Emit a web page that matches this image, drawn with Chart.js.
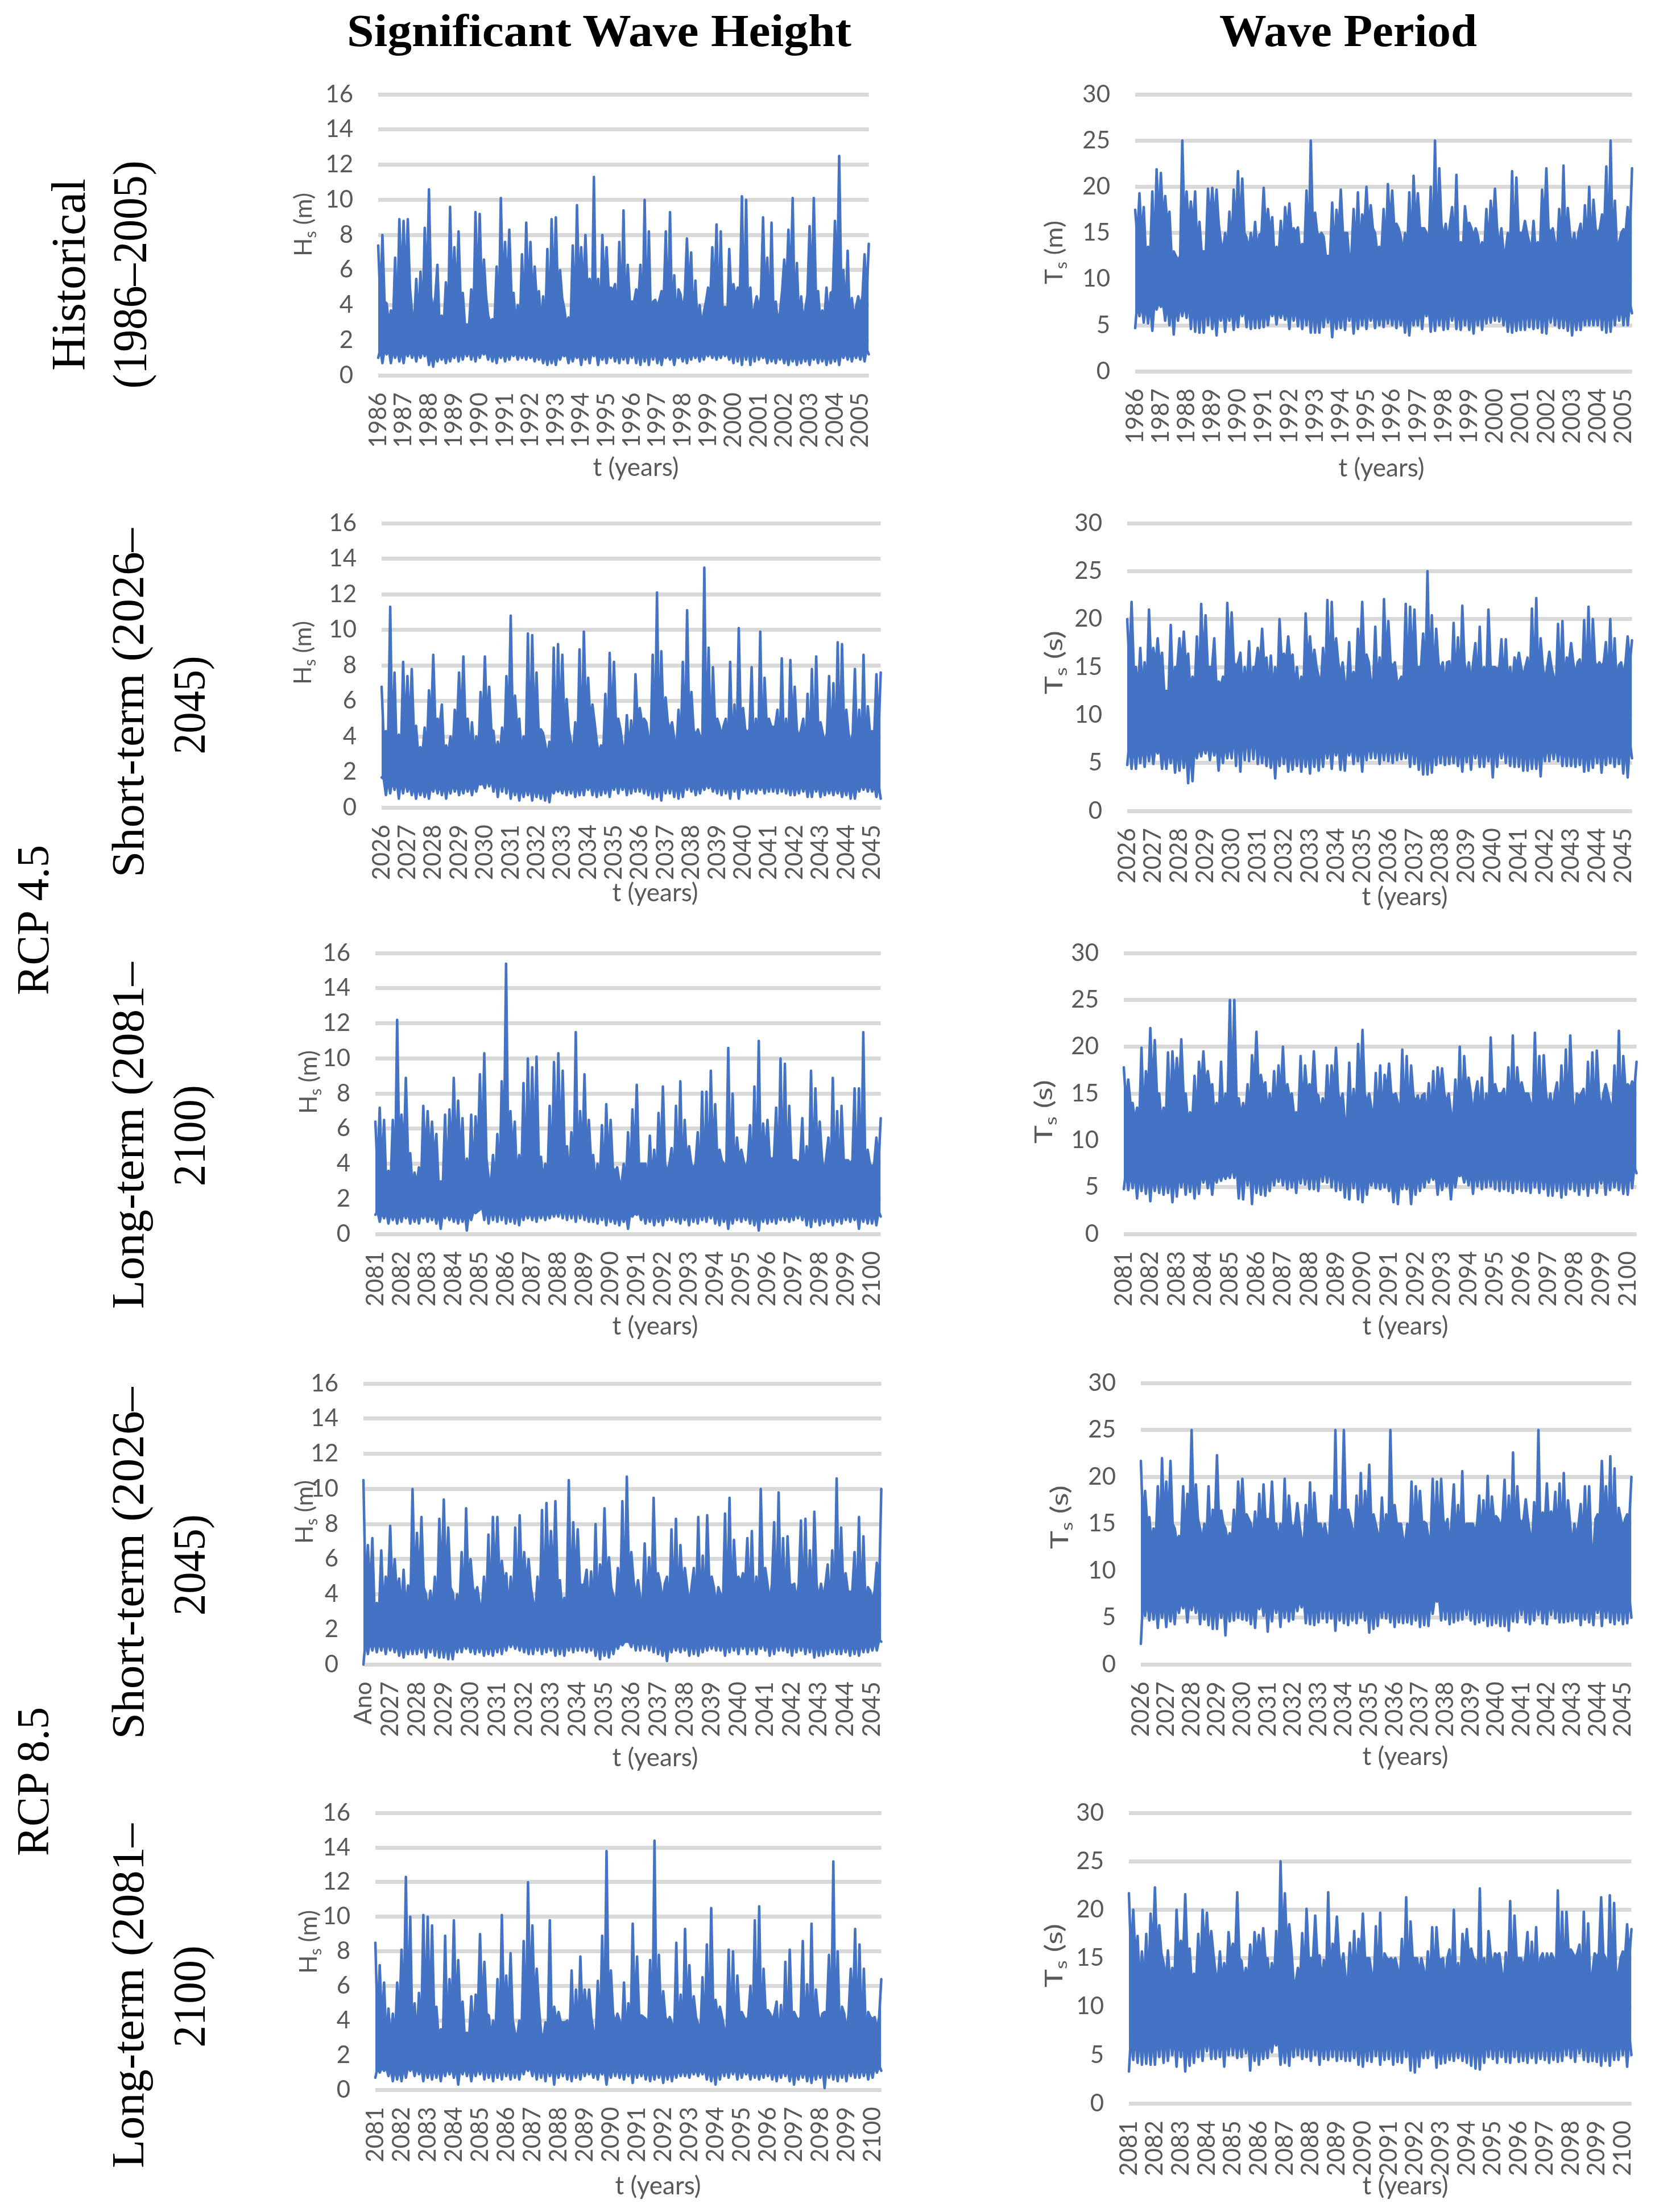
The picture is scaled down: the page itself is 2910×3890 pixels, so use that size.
<!DOCTYPE html>
<html><head><meta charset="utf-8">
<style>
html,body{margin:0;padding:0;background:#fff}
#page{position:relative;width:2910px;height:3890px;overflow:hidden;background:#fff}
canvas{position:absolute}
svg{position:absolute;left:0;top:0}
.head{font-family:"Liberation Serif",serif;fill:#000}
.ax{font-family:Lato,sans-serif;fill:#595959}
</style>
<script src="https://cdn.jsdelivr.net/npm/chart.js@4/dist/chart.umd.min.js"></script>
</head><body><div id="page"><canvas id="c0"></canvas><canvas id="c1"></canvas><canvas id="c2"></canvas><canvas id="c3"></canvas><canvas id="c4"></canvas><canvas id="c5"></canvas><canvas id="c6"></canvas><canvas id="c7"></canvas><canvas id="c8"></canvas><canvas id="c9"></canvas><svg id="ov" width="2910" height="3890" xmlns="http://www.w3.org/2000/svg"></svg></div>
<script>
const yearsHist=['1986','1987','1988','1989','1990','1991','1992','1993','1994','1995','1996','1997','1998','1999','2000','2001','2002','2003','2004','2005'];
const yearsShort=['2026','2027','2028','2029','2030','2031','2032','2033','2034','2035','2036','2037','2038','2039','2040','2041','2042','2043','2044','2045'];
const yearsShortAno=['Ano','2027','2028','2029','2030','2031','2032','2033','2034','2035','2036','2037','2038','2039','2040','2041','2042','2043','2044','2045'];
const yearsLong=['2081','2082','2083','2084','2085','2086','2087','2088','2089','2090','2091','2092','2093','2094','2095','2096','2097','2098','2099','2100'];
const hsTicks=[0,2,4,6,8,10,12,14,16];
const tsTicks=[0,5,10,15,20,25,30];

const hsHistHigh=[7.4,8,4.1,3.7,6.7,8.9,8.8,8.9,3.6,5.5,5.9,8.4,10.6,3.6,6.3,3.4,5.3,9.6,7.3,8.2,4.7,2.9,4.9,9.3,9.2,6.6,3.4,3.2,6.2,10.1,7.6,8.3,4.7,4,6.9,8.7,7.6,6.2,4.8,4.5,7.2,8.9,9,6,3.8,3.3,7.4,9.7,7.3,8,5.5,11.3,5.5,8,7.3,5,5.2,7.6,9.4,6.3,4.2,4.9,6.3,10,8.2,4.2,3.9,4.8,8.2,9.3,5.7,4.9,3.6,7.8,7,5.4,4,3.6,5,7.3,8.6,8.2,3.9,7.2,5.2,5,10.2,10,5,3.9,3.8,9,6.7,8.7,4.2,3.6,6.6,8.3,10.1,6.4,4.5,3.8,8.5,10.1,4.8,3.7,5,4.7,8.8,12.5,6,7.1,4.4,3.9,3.9,6.9,7.5];
const hsHistLow=[1,.7,1.2,.7,1,.8,.7,1.1,1,.8,1,1.1,.6,.5,.8,.9,.7,.8,1,.8,.9,1.1,.9,.8,1,1.2,.9,.8,.7,1,.8,.9,1.1,.9,1,.9,1,.8,.9,.7,.6,.7,.6,.9,1.1,.7,.8,1,.6,.9,.7,1.1,.6,.9,.7,1,.8,.7,.9,.7,1,.7,.6,.8,.6,.9,.7,.6,1,.9,.6,1,.8,.7,.9,1,.8,.9,1.1,1,.9,1,1.1,.9,.7,.8,.6,.9,.6,.8,.9,1,.7,.8,.7,.9,.7,.6,.8,.6,.7,.8,.6,.9,.7,.8,.6,.7,.8,.6,1,.9,.8,1,.9,.8,1.2];
const hsHistBody=[4.2,2.9,5,3,4.5,2.8,4.2,2.9,4.5,3,4.6,2.9,4.2,2.8,4.4,2.9,4.6,3,4.8,3,4.2,2.8,4.3,3,4.6,2.8,4.2,2.9,4.4,3,4.5,3,4.8,3,4.6,3.2,4.8,3.2,4.5,3];
const hsHistRidge=[1.5,1.5,1.3,1.5,1.4,1.4,1.3,1.3,1.4,1.4,1.5,1.3,1.4,1.4,1.6,1.3,1.3,1.3,1.4,1.5];

const tsHistHigh=[17.5,19.3,17.8,13.5,19.5,21.9,21.5,19,17.3,13,12,25,19.5,18.4,19.5,16.2,13,19.8,19.9,19.7,14,15,17.3,19.7,21.7,20.9,14.5,15,16.2,14.8,19.9,17.6,16.7,13.5,16.3,17.8,18.2,15.5,15.6,13.8,19.6,25,17.2,14.7,14.6,12.5,18.3,17.5,19.7,15,12,17.6,19.4,17,20,18,15,13.5,17.6,20.3,19.6,16,14.6,15,19.4,21.2,19.3,15.5,15,20,25,22,14.5,14,17.8,21.3,14,17.9,16.1,14.5,14.7,14,17.6,18.5,19.8,13.3,13,15,21.7,21,15,16.3,14,16.3,14,19.7,22,15,14,17.6,22.3,17.7,13.4,13,16,18,20,18.6,14.8,17,22.2,25,18.5,14,15.4,17.8,22];
const tsHistLow=[4.7,6,5.3,5.2,4.4,6.7,7,5.5,5,4,5.5,6,5.8,4.6,4.3,4.2,4.2,5,4.6,3.9,5.5,4.3,5.5,4.5,4.8,6,4.8,4.6,4.7,4.7,4.8,5,6,5.1,5.8,5.6,4.6,5.5,4.9,4.6,5,4.2,4.2,4.2,4.8,5.3,3.7,4.6,4.7,4.5,5.5,4.1,4.6,5,4.6,5.5,4.7,5,4.8,5.2,5,4.7,5,4.2,3.9,5,5,4.6,6,4.3,4.4,5,4.5,4.6,5.5,4.6,4.5,5,4.5,4.1,5,4.5,5.2,5.3,5.5,5.4,5,4.3,4.2,4.4,4.5,4.5,4.8,4.6,4.7,4.2,4.1,5.3,5,4.7,4.7,4.4,3.9,4.5,4.5,5,5,5,5,4.5,4.2,4.3,5,5.5,5,5,6.3];
const tsHistBody=[14.5,12.5,16,12.5,15.5,13,16,13,15,13,15,12.5,15,13,15,12.5,15,12.8,15.5,13,15.5,12.8,15.5,13,16,13,15.5,13,15.5,13,15,13,15.5,13,15,13,15.5,13,15,13];
const tsHistRidge=[7.5,7.5,7.8,7,7.2,7,7.2,7,7.2,6.8,6.8,7.2,7.2,7,7,7.4,7.2,6.8,7.4,7.4];

const hs45ShortHigh=[6.8,4.3,11.3,7.6,4.1,8.2,7.4,7.8,4.6,3.4,4.5,6.6,8.6,5,5.8,3.5,4,5.5,7.6,8.5,5,4.8,4,6.5,8.5,6.8,4.3,3.7,4.5,7.4,10.8,6.3,5,4,9.8,9.7,7.6,4.4,3.6,3.7,9,9.2,8.6,6.1,3.7,4.8,8.9,9.9,7.3,5.8,3.7,3.5,6.4,8.7,8.2,5,3.5,5.2,4.9,7.5,5.6,5,4,8.6,12.1,8.8,6.2,4.4,3.9,5.5,8.2,11.1,6.5,4,4,13.5,9,7.9,5,4,5,8.2,5.8,10.1,5.6,4.2,7.9,5,9.9,7.3,5,4.5,5.5,8.4,5,8.3,6.8,3.9,5,6.4,7.8,8.5,4.8,3.6,7.4,7,9.3,9.2,5.5,3.5,7.8,5.5,8.6,5.7,4.3,7.5,7.6];
const hs45ShortLow=[1.7,.7,.8,1,.5,.8,.9,.7,.5,.7,.6,.5,.9,.8,.7,.5,.8,.9,.7,.8,.9,.7,.9,1.3,1.1,1.2,.9,.6,.9,.8,.5,.7,.4,.6,.7,.4,.6,.5,.4,.3,.8,.9,.8,.7,.8,.6,.7,.7,1,.7,.6,.7,.8,.6,1,.8,1,.7,.8,.9,.9,.8,.7,.5,.6,.4,.8,.8,.6,.5,.6,1,.9,.7,.8,1,1.1,.9,.8,.7,.8,.5,.9,.5,1,.8,.9,.8,1,.8,.9,.9,.8,.9,.8,.7,.7,.8,.9,.6,.6,.9,.6,.7,.8,.7,.8,.6,.7,.5,.5,.9,1,.9,.9,.6,.5];
const hs45ShortBody=[3.8,3,4.2,3,4.6,3,4.4,3,4.4,3,4.4,3,4.2,2.8,4.4,3,4.8,3,4.4,3,4.8,3.2,4.8,3.2,4.4,3,4.6,3,4.4,3,4.6,3,4.4,3,4.2,3,4.2,3,4.2,3];
const hs45ShortRidge=[1.6,1.3,1.4,1.4,1.7,1.3,1.2,1.4,1.4,1.5,1.5,1.5,1.4,1.5,1.4,1.5,1.4,1.3,1.4,1.3];

const ts45ShortHigh=[20,21.8,15,17,15.5,21,17,18,16.5,12.5,19.4,15,18,18.7,16.4,14,18.2,21.6,20.4,15,18,13.5,14,21.7,20.7,15,16.5,15,17.7,15,17,19,16,16.2,15,20,16.4,18.2,16.3,15,14,20.6,18.2,16.8,14,17,22,21.8,18,14,13.4,17.6,14.5,19,21.8,16.3,13.5,19.2,16,22.1,19.8,15,13.5,14,21.6,21.3,21,15,18.5,25,20.4,19,14.5,13,15.6,19.6,18.1,21.4,14,13.2,17.5,19.2,15,21,15,14.8,17.9,17.9,15,16,16.5,14,16,21.1,22.2,18,13.5,16.6,14,19.5,19.8,16,17.5,14,15.8,19.9,21.3,20,15,15,17.6,20,18,15.2,14,18.2,17.8];
const ts45ShortLow=[4.8,4.4,4.4,5,4.6,5.2,4.9,6,4.4,4.4,5,4,4.2,4.5,2.9,3.1,5.5,5.7,6,5.3,5.8,4.2,5,5.5,5.5,4.7,4.1,5.3,5.2,5.4,4.9,5,4.7,4.5,3.4,4.7,4.9,4.1,4.3,4.7,4.1,4.6,3.9,4.6,4.2,4.6,5.5,4.4,5.8,4.3,4.2,5.8,4.9,5.2,4.1,5.3,5.5,5.5,4.9,5.3,5.2,5,5.3,5.4,5.5,4.6,4.9,4.3,3.8,3.8,4,4.8,5,4.8,4.9,5,4.7,4.1,5.1,4.3,5.5,4.6,4.6,5.2,3.5,4.6,5.5,5,4.7,4.6,4.6,4.2,4.2,4.4,4.4,3.6,5.2,5.2,5.4,5.2,4.7,4.7,4.7,4.6,4.8,4.1,4.2,4.5,5,4,4.8,5,4.6,4.9,3.9,3.5,5.5];
const ts45ShortBody=[15,12.5,15,12.5,15,12.5,15,13,15.5,12.5,15,12.5,15.5,12.5,15,13,15.5,13,15.5,13,15.5,13.5,15,13.5,15.5,13,15.5,13,15,13,15,13,15,12.8,15.5,13,15.5,13,15.5,13];
const ts45ShortRidge=[7.2,6.8,7,7.2,8.5,7.2,7,7.2,7.2,7.4,7.4,7.2,7.2,7.2,7.4,7.2,7.2,7,7,7.2];

const hs45LongHigh=[6.4,7.2,6.5,3.6,6.5,12.2,6.8,8.9,4.6,3.5,3.8,7.3,7,6.4,5.7,3,6.8,7.1,8.9,7.6,6.6,4.3,6.8,6.7,9.1,10.3,3.2,4.5,5.7,8.7,15.4,7,6.4,4.5,8.6,10,9.5,10.1,4.4,4,7.3,9.8,10.3,9.3,5,5.8,11.5,7,9.1,6.5,4.5,4,6.2,7.4,6.5,3.5,3,4,5.8,7.1,8.5,4,4,5.6,4.8,6.9,8.4,3.5,4.9,7.3,8.7,6.5,5,3.7,5.8,8.1,8.1,9.3,7.4,4.8,4,10.6,8,5.5,4.8,3.6,6.2,8.4,11,6.3,6.5,4.2,7.2,10,9.7,7.3,4.2,4,6.6,5,9.3,8.3,6.4,3.3,5.5,8.9,7,7.3,4.2,4,8.3,8.3,11.5,4.8,3.8,5.5,6.6];
const hs45LongLow=[1.1,.7,.9,.6,.8,.6,.7,.9,.6,.7,.6,.9,.7,.8,.6,.3,.9,.8,.7,.6,.7,.2,.8,1.2,1.4,.8,.6,.8,.7,.8,.6,.7,.6,.5,.8,.9,.8,.7,.9,.8,.9,1,1,.9,.8,.9,.7,.9,.8,.7,.7,.6,.8,.5,.7,.6,.5,.7,.3,1,1.1,.8,.6,.7,.5,.7,.5,.8,.8,.7,.6,.8,.5,.7,.6,.8,.7,.9,.6,.5,.7,.3,.6,.8,.7,.8,.6,.5,.2,.7,.6,.7,.6,.8,.8,.7,.8,.9,.8,.5,.4,.7,.5,.6,.7,.5,.7,.6,.8,.7,.8,.3,.7,.6,.6,.5,1];
const hs45LongBody=[3.6,2.8,4.4,2.8,4.2,2.9,4.2,3,4.3,2.8,4.6,3,4.3,3,4.4,3,4.2,2.8,3.8,2.8,4,2.8,4,2.9,4,2.8,4.2,3,4.2,3,4.4,3,4.2,3,4.4,2.9,4.2,2.8,4,2.9];
const hs45LongRidge=[1.3,1.3,1.3,1.3,1.6,1.4,1.4,1.6,1.4,1.2,1.3,1.3,1.4,1.3,1.3,1.3,1.4,1.3,1.3,1.3];

const ts45LongHigh=[17.8,16.5,14,13.5,19.9,17.4,22,20.7,15,13.5,19.4,19.5,18.8,20.8,15,13,16.9,18.4,19.5,17.4,16,14,18.4,15,25,25,14.5,14,16,19.1,21.6,17,16.2,15,17.4,18,20,16,15,13,19,18,16,19.5,14.8,14.5,18,18,19.9,14,12,18.3,15.5,20.3,21.8,14,13.5,17.2,18,17,18.2,14.8,14,19.7,19,18,14,13.6,15,16.1,17.4,17.8,17.7,14,13,16.5,20,19,16.7,12.5,16.3,16.7,15,21,16,15,15.5,17.8,21.2,17.8,16.2,15,14,21.5,19,19.1,13.4,13,16.2,18,19.7,21.2,12,14.7,15.5,18.4,19.4,19.6,13,16,14,18,21.7,19,16,16.3,18.4];
const ts45LongLow=[4.8,4.7,4.9,3.8,4.6,4.3,3.5,4.6,4.4,4.2,4.4,3.4,4,5,4.2,4.5,3.8,4.3,5.5,4.9,4.2,5.5,5.7,5.9,6,6,3.8,3.7,5.2,3.2,4.4,4.2,4.1,4.6,5.2,5.6,5.2,4.8,5,4.4,5.4,5.3,4.8,4.8,4.6,5.6,5.5,5,4.6,4.7,3.9,3.7,4.9,3.7,3.4,4.2,5.2,4.9,4.8,5,4.6,3.4,3.2,4.8,4.8,3.2,4.2,4.6,5,5.5,5.8,4.2,4.7,5.1,3.7,5,6.2,5.5,5.2,4.3,5.1,4.8,5,5.1,4.8,4.6,4.8,4.6,4.4,4.8,4.6,4.6,4.4,5,4.4,4.8,4.1,4.1,4.6,3.9,4.2,4.8,4.6,4.2,4.8,4.1,4.9,4.4,5.4,4.2,4.7,5,4.7,4.3,4.2,4.9,6.5];
const ts45LongBody=[14,12,15,12,15,12,15.5,12.5,14.5,12.5,15.5,12.8,14.5,12.8,15,12.8,15,12.2,15,12,15,12.2,14.8,12.2,15,12,15,12.2,15,12.5,15,12.5,15,12.5,15,12,15,12.4,15.5,12.4];
const ts45LongRidge=[6.8,6.6,6.8,6.6,7.4,6.8,7,7.4,7.2,6.4,6.4,6.6,6.6,7,7.4,7,7,6.8,6.8,7.2];

const hs85ShortHigh=[10.5,6.8,7.2,3.5,6.5,5,7.9,6,4.9,5.4,4.5,10,7.5,8.4,4,4.2,5,8.3,9.4,7.8,4.1,4,6.4,8.9,6,4,3.5,5,7.4,8.4,8.4,5.9,5.2,5,7.8,8.5,6.4,6,3.6,5,8.8,9.2,7.6,9.3,4.8,3.8,10.5,8.1,7.7,4.5,5.4,5.3,8,5.7,8.9,6.1,3.9,5.5,9.3,10.7,6.4,3.8,3.8,6.9,6.1,9.5,5.2,3.5,5,7.7,8.3,6.8,5.5,3.4,5.5,8.4,6.2,8.5,5,3.3,4,8.6,9.5,7.1,5,5.2,7.2,7.6,5,10,5.5,3.5,8.1,9.8,7.2,7.3,4.5,3.6,8.2,8.3,6.5,8.7,3.7,3.7,5.7,6.5,10.6,7.8,5.2,4.1,6.4,8.4,7.3,4.4,3.6,5.8,10];
const hs85ShortLow=[0,.6,.8,.7,.8,.6,.8,.7,.5,.4,.6,.6,.6,.7,.4,.7,.5,.4,.4,.3,.3,.7,.7,.9,.7,.6,.7,.5,.6,.5,.7,.6,.8,1,.9,.8,.7,.6,.6,.8,.6,.7,.8,.5,.6,.5,.8,.7,.8,.8,.7,.8,.5,.3,.5,.4,.6,.9,1.1,1.3,1,.8,.8,.9,.8,.7,.6,.5,.2,.7,.8,.7,.8,.5,.6,.5,.7,.8,.9,.8,.8,.5,.7,.8,.6,.9,.6,.8,.6,.9,.8,.5,.6,.8,.8,.7,.5,.7,.8,.6,.7,.4,.5,.5,.6,.7,.6,.6,.7,.5,.6,.5,.7,.7,.8,.8,1.3];
const hs85ShortBody=[4,3,4,3,4.4,3,4.4,3,4.4,3,4.6,3,4.4,3,4.6,3.2,4.6,3,4.4,3.2,4.8,3.2,4.6,3,4.4,3,4.4,3,4.6,3,4.6,3,4.6,3,4.6,3,4.2,3,4.2,3.2];
const hs85ShortRidge=[1.4,1.3,1.4,1.3,1.3,1.4,1.4,1.4,1.4,1.3,1.6,1.3,1.4,1.4,1.4,1.4,1.4,1.3,1.3,1.4];

const ts85ShortHigh=[21.7,18.5,15.7,14.5,19,22,19.5,21.7,14.5,13.7,19,18.2,25,19.2,14.5,15,19,16.5,22.3,16.4,14.5,14,16.5,19.5,19.8,16,15,16.3,18.2,19.2,15.5,19.5,15,15,19.8,18,14.5,17.2,13.4,17,19.4,18.3,15,13.7,13.7,18,25,16.5,25,16.5,14.5,18,20.4,18.5,21.3,16,14,17.8,16,25,17,15,13.4,15,19.5,19,18.5,15.2,13.5,19.8,19.5,19.8,14.5,12.2,19.2,17,20.6,15,15,14,18,17.5,20.1,17.9,15.8,14.5,19.7,18,22.6,19,15,17.6,14,17.3,25,16.2,19.3,16.3,18.4,19.3,20.4,17.5,12.4,13.5,17.1,19,19,12,16,21.7,19,22.2,20.9,16.7,14.5,16,20];
const ts85ShortLow=[2.2,5.2,4.7,4.8,3.9,5,4,4.6,4.3,5.5,6,4.5,5.8,5.5,4.3,4.8,4.2,3.8,3.8,5,3.1,4.6,4.7,5,4.8,4.7,4.3,3.9,5.9,5.2,3.5,4.6,5.5,4,5,4.6,4.8,5.7,6.1,4.4,4.3,4.2,4.5,4.9,4.5,4.9,3.6,4.7,4.4,4.2,4.7,4.4,5,4.7,3.4,3.8,4.1,5,4.9,4.5,4,4.5,4.4,4.5,4.3,4.7,4,4.2,4.1,5.4,6.7,4.7,4.8,4.3,4.5,4.7,4.8,5.3,4.7,4.3,4.5,4.7,4.1,4.2,4.4,4.1,4.1,3.6,4.6,4.5,5.3,4.5,4.3,4.7,5.3,4.4,4.3,5.3,4.9,4.5,4.5,4.6,4.7,4.9,4.2,4.8,4.5,4.2,5.5,4.1,5,4.5,4.3,4.7,4.3,4.4,5];
const ts85ShortBody=[15,13,15,13,15.5,13,15,13,15.5,13,15,13,15,12.8,15,13,15.5,13,15,13,15,13,15,13,15.5,13,15,13,15.5,13,15.5,13,15,13,15,12.8,15.5,12.5,15.5,13];
const ts85ShortRidge=[7,7,7.2,7.2,7,7.2,7.2,7.4,7.2,7,7,7.2,7.4,7.2,7.4,7.2,7.2,7,7.2,7.2];

const hs85LongHigh=[8.5,7.2,6.2,4.7,4.4,6.2,8.1,12.3,10,5,5.6,10.1,10,9.5,4.8,3.5,8.9,6.4,9.8,7.5,5.1,3.3,5.4,5.5,9,7.4,4.3,4,6.4,10.1,6.6,7.9,3.3,4,8.6,12,9.5,7,3.3,3.9,9.8,4.8,4.5,3.9,4,6.9,5.8,7.7,5.8,5.8,3.4,6.3,8.9,13.8,6.9,3.8,4,6.2,5,9.6,7.7,4.3,4.1,7.5,14.4,7.8,5.7,3.9,3.8,8.5,5.5,9.3,7.2,5.4,3.8,6.5,8.4,10.5,5.2,4.8,3.5,8.1,8,6.6,4.5,4,6,9.8,10.6,7,4.6,4,5.1,4.9,7.4,8.1,4.5,4,8.6,6.1,9.6,5.8,3.8,4.5,7.8,13.2,8,4.8,3.3,7,9.3,8.4,7,4.5,4.1,3.4,6.4];
const hs85LongLow=[.7,1,1.1,.8,.5,.6,.5,.7,1.1,.8,.9,.5,.7,.6,.7,.5,.8,.9,.7,.3,.9,.8,.5,.8,.9,.6,.7,.5,.7,.6,.8,.6,.7,.6,.9,1.1,.8,.6,.7,.5,.8,.3,.7,.8,.6,.5,.7,.6,.8,.9,.7,.6,.9,.3,.7,.8,.7,.6,.8,.4,.7,.8,.6,.5,.6,.7,.4,.6,.5,.7,.8,.8,.7,.9,.8,.9,.6,.5,.3,.6,.8,.7,.9,.6,.7,.9,.6,.7,.6,.7,.8,.6,.5,.7,.8,.5,.3,.6,.7,.5,.4,.6,.7,.1,.7,.6,.5,.7,.5,.8,.7,.7,.8,.6,.7,1,1.1];
const hs85LongBody=[3.8,2.8,4,2.9,4,3,4.2,3,4.4,3,4,3,4.8,2.9,3.9,2.9,4.2,2.9,4.4,3,4.2,2.9,4.2,3,4.2,3,4.2,3,4.2,3,4.4,2.8,4.2,2.9,4.4,3,4.4,2.9,4.2,2.9];
const hs85LongRidge=[1.3,1.4,1.4,1.4,1.5,1.4,1.5,1.4,1.3,1.4,1.3,1.3,1.3,1.4,1.3,1.3,1.3,1.4,1.4,1.4];

const ts85LongHigh=[21.7,20,17.3,15.7,17.5,19.6,22.3,18.4,14.5,15.8,14,20,16.8,21.6,16,13.4,17.5,20,19.7,17.8,13.5,15.7,14.5,17.7,16.5,21.8,14.7,14,16.4,17.7,17.4,18.1,15,14.5,17.8,25,21.7,18.5,12.6,14,17.6,20.1,15,19.4,15.3,14.8,21.8,16.5,19.3,13.7,13,16.6,17.8,17,19.6,15,13.5,18.3,19.7,15.5,14.8,14.6,14,17,21.3,18.8,15,13.3,14,15.7,18.2,18.2,14.8,12.3,15.9,20,14.5,17.5,18,16,14.8,22.2,15,17.8,14,15.2,13.8,15.6,20.9,19.4,15,14,17.7,16.7,18.2,15,14,14.5,15,22,19.8,19.8,15.9,15,16.4,19.8,18.6,13.5,15.1,21.3,15,21.5,20.7,13.5,15.7,18.5,18];
const ts85LongLow=[3.3,4.5,4.2,4,4.1,4,4,4.8,4.2,4.4,5,3.8,4.8,3.3,3.9,4.2,4.8,4.4,5.4,4.6,4.6,4.8,3.8,5,5,4.7,4.8,5.2,3.4,4.4,4,4.6,4.7,5.3,6,4,4.2,3.9,4.8,5,4.6,4.8,4.4,5,4,4.6,4.5,4.8,4.4,4.6,4.4,4.4,4.7,4,3.8,4.4,4.3,4.9,4,4.5,4.6,4,4.3,4.2,4.8,3.4,3.2,3.8,4.7,4.7,5,3.7,4.1,4.2,4.5,4.4,4.7,4.4,4.2,3.9,3.6,3.5,4.2,4.8,4.6,4.2,4.8,4.3,4.2,4.8,4.3,4.4,4.2,4.7,4.2,4.6,4.5,4.2,4.5,4.3,4.4,5,4.7,4.3,5.2,4.5,4.3,4.4,4.3,3.9,4.4,3.9,4.5,4.5,5,3.8,5];
const ts85LongBody=[15,12,15.5,12.5,15,12.5,15.5,12.5,15,12.5,15,12.5,16,12.5,15,12.5,15.5,12.5,15,12.2,15,12.2,15,12.2,15,12.2,15,12,15.5,12,15,12.5,15.5,12.2,15.5,12.2,15.5,12.2,15,12.5];
const ts85LongRidge=[7.2,7.2,7.2,7.2,7,6.8,7.2,7,7,7,7.2,6.8,6.6,7,7,6.8,7,7,7,7];

const panels=[
 {high:hsHistHigh,low:hsHistLow,body:hsHistBody,ridge:hsHistRidge,years:yearsHist,ticks:hsTicks,L:665,R:1538,T:166,B:660,sym:'H',unit:'(m)',yx:533,yy:395,xx:1118,xy:825},
 {high:tsHistHigh,low:tsHistLow,body:tsHistBody,ridge:tsHistRidge,years:yearsHist,ticks:tsTicks,L:1996,R:2879,T:166,B:653,sym:'T',unit:'(m)',yx:1853,yy:444,xx:2429,xy:826},
 {high:hs45ShortHigh,low:hs45ShortLow,body:hs45ShortBody,ridge:hs45ShortRidge,years:yearsShort,ticks:hsTicks,L:671,R:1558,T:920,B:1420,sym:'H',unit:'(m)',yx:532,yy:1148,xx:1152,xy:1573},
 {high:ts45ShortHigh,low:ts45ShortLow,body:ts45ShortBody,ridge:ts45ShortRidge,years:yearsShort,ticks:tsTicks,L:1982,R:2879,T:920,B:1426,sym:'T',unit:'(s)',yx:1853,yy:1165,xx:2470,xy:1580},
 {high:hs45LongHigh,low:hs45LongLow,body:hs45LongBody,ridge:hs45LongRidge,years:yearsLong,ticks:hsTicks,L:660,R:1558,T:1676,B:2170,sym:'H',unit:'(m)',yx:542,yy:1903,xx:1152,xy:2335},
 {high:ts45LongHigh,low:ts45LongLow,body:ts45LongBody,ridge:ts45LongRidge,years:yearsLong,ticks:tsTicks,L:1976,R:2886,T:1676,B:2170,sym:'T',unit:'(s)',yx:1835,yy:1955,xx:2471,xy:2335},
 {high:hs85ShortHigh,low:hs85ShortLow,body:hs85ShortBody,ridge:hs85ShortRidge,years:yearsShortAno,ticks:hsTicks,L:639,R:1558,T:2433,B:2927,sym:'H',unit:'(m)',yx:535,yy:2659,xx:1152,xy:3094},
 {high:ts85ShortHigh,low:ts85ShortLow,body:ts85ShortBody,ridge:ts85ShortRidge,years:yearsShort,ticks:tsTicks,L:2006,R:2879,T:2432,B:2927,sym:'T',unit:'(s)',yx:1863,yy:2668,xx:2471,xy:3092},
 {high:hs85LongHigh,low:hs85LongLow,body:hs85LongBody,ridge:hs85LongRidge,years:yearsLong,ticks:hsTicks,L:660,R:1558,T:3188,B:3675,sym:'H',unit:'(m)',yx:542,yy:3415,xx:1157,xy:3847},
 {high:ts85LongHigh,low:ts85LongLow,body:ts85LongBody,ridge:ts85LongRidge,years:yearsLong,ticks:tsTicks,L:1985,R:2879,T:3188,B:3699,sym:'T',unit:'(s)',yx:1853,yy:3439,xx:2471,xy:3847}
];
const PER_YEAR=12, LEFT=110, TOP=40, RIGHT=20, BOTTOM=150;
const BLUE='#4472C4', GRID='#D9D9D9', INK='#595959';
Chart.defaults.font.family='Lato, sans-serif';
panels.forEach((p,n)=>{
  const cv=document.getElementById('c'+n);
  const W=p.R-p.L+LEFT+RIGHT, H=p.B-p.T+TOP+BOTTOM;
  cv.width=W; cv.height=H; cv.style.width=W+'px'; cv.style.height=H+'px';
  const upper=p.high.flatMap((v,i)=>[v,p.body[Math.floor((i+1)/3)]]).slice(0,-1);
  const lower=p.low.flatMap((v,i)=>[v,p.ridge[Math.floor(i/6)]]).slice(0,-1);
  const labels=upper.map((_,i)=>p.years[Math.floor(i/PER_YEAR)]);
  const line={borderColor:BLUE,backgroundColor:BLUE,borderWidth:4.5,pointRadius:0,tension:0,borderJoinStyle:'round',borderCapStyle:'round',clip:6};
  const chart=new Chart(cv,{type:'line',
    data:{labels,datasets:[
      {...line,label:p.sym+'s',data:upper,fill:'+1'},
      {...line,label:p.sym+'s low',data:lower,fill:false}]},
    options:{responsive:false,animation:false,devicePixelRatio:1,
      layout:{autoPadding:false,padding:{top:TOP,right:RIGHT,left:0,bottom:0}},
      plugins:{legend:{display:false},tooltip:{enabled:false}},
      scales:{
        x:{type:'category',offset:false,
           grid:{display:false},border:{display:false},
           afterFit(s){s.height=BOTTOM},
           ticks:{autoSkip:false,minRotation:90,maxRotation:90,padding:22,color:INK,font:{size:42},
             callback(v,i){return i%PER_YEAR===0?this.getLabelForValue(v):''}}},
        y:{min:p.ticks[0],max:p.ticks[p.ticks.length-1],
           grid:{color:GRID,lineWidth:7,drawTicks:false},border:{display:false},
           afterFit(s){s.width=LEFT},
           afterBuildTicks(s){s.ticks=p.ticks.map(v=>({value:v}))},
           ticks:{padding:44,color:INK,font:{size:42}}}
      }}});
  // grow the canvas until the plot area has the reference's size, then seat it on the page
  for(let k=0;k<2;k++){
    const a=chart.chartArea;
    chart.resize(chart.width+(p.R-p.L)-(a.right-a.left),chart.height+(p.B-p.T)-(a.bottom-a.top));
  }
  cv.style.position='absolute';
  cv.style.left=(p.L-chart.chartArea.left)+'px';
  cv.style.top=(p.T-chart.chartArea.top)+'px';
});
let svg='';
const rot=(x,y,t,size,len)=>`<text class="head" transform="translate(${x},${y}) rotate(-90)" text-anchor="middle" font-size="${size}" textLength="${len}" lengthAdjust="spacingAndGlyphs">${t}</text>`;
const columnTitles=[['Significant Wave Height',610,887],['Wave Period',2144,453]];
columnTitles.forEach(([t,x,len])=>{svg+=`<text class="head" x="${x}" y="81" font-size="80" font-weight="bold" textLength="${len}" lengthAdjust="spacingAndGlyphs">${t}</text>`});
const rowLabels=[
 ['Historical',149,483,84,338],['(1986–2005)',257,483,84,401],
 ['RCP 4.5',85,1618,80,264],['Short-term (2026–',252,1236,80,614],['2045)',360,1240,80,173],
 ['Long-term (2081–',252,1997,80,610],['2100)',360,1997,80,178],
 ['RCP 8.5',85,3133,80,262],['Short-term (2026–',252,2749,80,619],['2045)',360,2752,80,178],
 ['Long-term (2081–',252,3510,80,606],['2100)',360,3511,80,179]];
rowLabels.forEach(r=>{svg+=rot(r[1],r[2],r[0],r[3],r[4])});
panels.forEach(p=>{
  svg+=`<text class="ax" x="${p.xx}" y="${p.xy+12}" text-anchor="middle" font-size="44">t (years)</text>`;
  svg+=`<text class="ax" transform="translate(${p.yx+15},${p.yy}) rotate(-90)" text-anchor="middle" font-size="42" textLength="112" lengthAdjust="spacingAndGlyphs">${p.sym}<tspan font-size="28" dy="8">s</tspan><tspan dy="-8"> ${p.unit}</tspan></text>`;
});
document.getElementById('ov').innerHTML=svg;
</script></body></html>
